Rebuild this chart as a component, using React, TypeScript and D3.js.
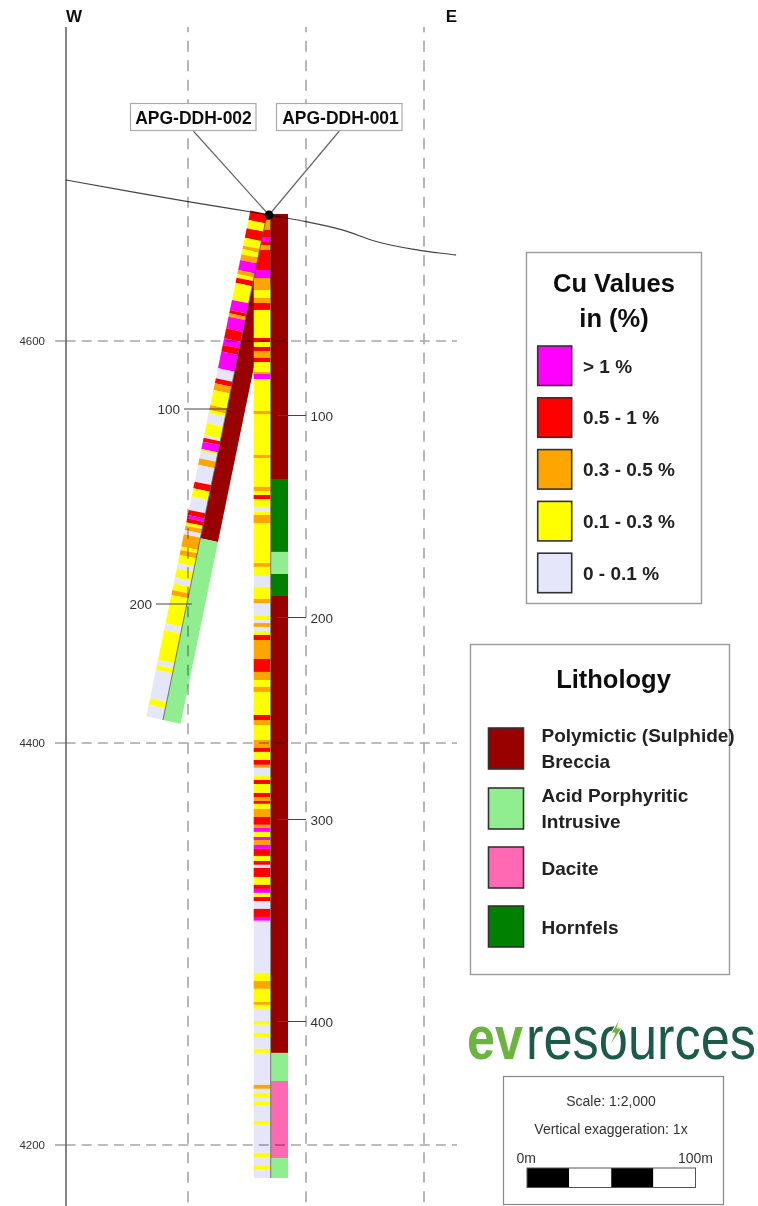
import React from "react";
import * as d3 from "d3";

const W = 758, H = 1206;
const SANS = "'Liberation Sans', Arial, sans-serif";

// Legends
const cuClasses = ["M", "R", "O", "Y", "L"];
const cuLabels = ["> 1 %", "0.5 - 1 %", "0.3 - 0.5 %", "0.1 - 0.3 %", "0 - 0.1 %"];
const cuColours = ["#ff00ff", "#ff0000", "#ffa500", "#ffff00", "#e6e6fa"];
const lithClasses = ["BX", "AP", "DA", "HF"];
const lithLabels = [["Polymictic (Sulphide)", "Breccia"], ["Acid Porphyritic", "Intrusive"], ["Dacite"], ["Hornfels"]];
const lithColours = ["#990000", "#90ee90", "#ff69b4", "#008000"];

// Grid and axes
const elevationTicks = [4600, 4400, 4200];
const eastingGrid = [0, 50, 100];
const terrainEast = [-51.7, 0, 26.3, 50, 65.7, 80.1, 97, 113.6];
const terrainElev = [4680.1, 4669.3, 4664.3, 4659.4, 4655.2, 4649.4, 4645.3, 4642.8];
const hole1Ticks = [100, 200, 300, 400];
const hole2Ticks = [100, 200];

// Hole 1 (vertical): interval end depth + class
const h1CuTo = [3, 7.9, 11.4, 13.9, 15.3, 17.8, 27.7, 31.7, 37.6, 41.6, 44.1, 47.5, 61.4, 63.4, 65.8, 67.8, 71.3, 73.3, 78.2, 79.2, 81.7, 97.5, 99, 119.3, 120.8, 135.1, 137.1, 139.1, 141.1, 145, 147.5, 149, 153, 172.8, 174.7, 179.2, 184.6, 190.6, 192.6, 199, 201, 202.5, 204.4, 206.4, 208.4, 210.9, 220.3, 226.7, 230.7, 234.1, 236.6, 248, 250.5, 253, 260.4, 264.3, 266.3, 270.3, 272.7, 274.2, 278.2, 280.2, 282.2, 286.6, 288.6, 290.6, 292, 294.5, 298.5, 302.4, 303.9, 305.9, 308.4, 309.9, 312.3, 314.3, 317.8, 320.3, 322.2, 323.7, 328.2, 332.1, 334.1, 336.1, 338.1, 340.1, 344, 348, 349.9, 375.7, 379.7, 383.6, 390.1, 391.5, 393.5, 399.5, 401.4, 405.4, 407.4, 413.3, 415.3, 431.1, 433.1, 435.1, 437.6, 439.6, 441.5, 449, 450.9, 464.8, 466.8, 471.2, 473.2, 477.2];
const h1CuClass = ["R", "O", "R", "M", "R", "O", "R", "M", "O", "Y", "O", "R", "Y", "R", "Y", "R", "O", "R", "Y", "O", "M", "Y", "O", "Y", "O", "Y", "O", "Y", "R", "Y", "L", "Y", "O", "Y", "O", "Y", "L", "Y", "O", "L", "Y", "L", "O", "L", "Y", "R", "O", "R", "O", "Y", "O", "Y", "R", "O", "Y", "O", "R", "Y", "R", "O", "L", "Y", "R", "Y", "R", "O", "R", "Y", "O", "R", "O", "M", "Y", "M", "O", "M", "R", "Y", "R", "L", "R", "Y", "R", "M", "Y", "R", "L", "R", "M", "L", "Y", "O", "Y", "O", "Y", "L", "Y", "L", "Y", "L", "Y", "L", "O", "L", "Y", "L", "Y", "L", "Y", "L", "Y", "L", "Y", "L"];
const h1LithTo = [131.2, 167.3, 178.2, 189.1, 415.3, 429.2, 467.3, 477.2];
const h1LithClass = ["BX", "HF", "AP", "HF", "BX", "AP", "DA", "AP"];

// Hole 2 (inclined)
const h2CuTo = [4.8, 9.1, 13.9, 18, 19.7, 22.4, 25.3, 30.5, 32.5, 34.4, 37, 45.8, 51, 52.7, 54.4, 60.4, 65.5, 68.9, 72.3, 80.9, 86, 88.6, 92, 99.7, 102.3, 104, 109.1, 115.1, 116.5, 118.5, 122.3, 123.3, 127, 130.4, 139, 142.4, 146.7, 153.5, 156.1, 157.8, 159.9, 161.6, 163.8, 166, 172.3, 174, 176.6, 180.9, 183.5, 188.2, 191.2, 194.6, 197.1, 211.7, 215.1, 230.5, 233.1, 235.6, 250.2, 253.6, 259.5];
const h2CuClass = ["R", "Y", "R", "Y", "O", "Y", "O", "M", "O", "Y", "R", "Y", "M", "R", "O", "M", "R", "M", "R", "M", "L", "R", "O", "Y", "O", "Y", "L", "Y", "L", "R", "M", "Y", "L", "O", "L", "R", "Y", "L", "R", "M", "R", "Y", "O", "L", "O", "Y", "O", "Y", "L", "Y", "L", "Y", "O", "Y", "L", "Y", "L", "Y", "L", "Y", "L"];
const h2LithTo = [166.3, 259.5];
const h2LithClass = ["BX", "AP"];

const holeLabels = ["APG-DDH-002", "APG-DDH-001"];
const scaleBarMetres = [0, 25, 50, 75, 100];

const y = d3.scaleLinear().domain([4200, 4600]).range([1145, 341]);
const x = d3.scaleLinear().domain([0, 100]).range([188, 424]);
const h1Y = d3.scaleLinear().domain([0, 400]).range([214, 1022]);
const h2Y = d3.scaleLinear().domain([0, 260]).range([214, 721]);
const barX = d3.scaleLinear().domain([0, 100]).range([527, 695.5]);
const cuColour = d3.scaleOrdinal<string, string>().domain(cuClasses).range(cuColours);
const lithColour = d3.scaleOrdinal<string, string>().domain(lithClasses).range(lithColours);

const SLOPE = 0.2056;
const h2AxisX = (yy: number) => 267 - SLOPE * (yy - 214);
const nx = 0.9795, ny = 0.2014;
const h2Pt = (d: number, off: number): [number, number] => {
  const yy = h2Y(d);
  return [h2AxisX(yy) + nx * off, yy + ny * off];
};
const poly = d3.line();
const h2Seg = (a: number, b: number, o0: number, o1: number) =>
  poly([h2Pt(a, o0), h2Pt(b, o0), h2Pt(b, o1), h2Pt(a, o1)]) + "Z";

const terrainLine = d3
  .line<number>()
  .x((_, i) => x(terrainEast[i]))
  .y((_, i) => y(terrainElev[i]))
  .curve(d3.curveCatmullRom);

const GRID = "#a6a6a6";
const STRIP = 17;
const LEGEND_TEXT = "#222";

function App() {
  return (
    <svg width={W} height={H} viewBox={`0 0 ${W} ${H}`} style={{ position: "absolute", left: 0, top: 0, background: "#fff" }} fontFamily={SANS}>
      <defs>
        <filter id="soft" x="0" y="0" width="100%" height="100%">
          <feGaussianBlur stdDeviation="0.65" />
        </filter>
      </defs>
      <g filter="url(#soft)">
        <rect width={W} height={H} fill="#fff" />

        {/* hole 2 lithology, under hole 1 */}
        {h2LithTo.map((to, i) => (
          <path key={i} d={h2Seg(i ? h2LithTo[i - 1] : 0, to, 0, STRIP + 1)} fill={lithColour(h2LithClass[i])} />
        ))}
        {/* hole 1 Cu */}
        {h1CuTo.map((to, i) => {
          const from = i ? h1CuTo[i - 1] : 0;
          return <rect key={i} x={253.7} width={16.8} y={h1Y(from)} height={h1Y(to) - h1Y(from)} fill={cuColour(h1CuClass[i])} />;
        })}
        {/* hole 2 Cu */}
        {h2CuTo.map((to, i) => (
          <path key={i} d={h2Seg(i ? h2CuTo[i - 1] : 0, to, -STRIP, 0)} fill={cuColour(h2CuClass[i])} />
        ))}
        <path d={poly([h2Pt(0, 0), h2Pt(259.5, 0)]) ?? ""} stroke="#555" strokeWidth={0.8} fill="none" />
        {/* hole 1 lithology */}
        {h1LithTo.map((to, i) => {
          const from = i ? h1LithTo[i - 1] : 0;
          return <rect key={i} x={271} width={17} y={h1Y(from)} height={h1Y(to) - h1Y(from)} fill={lithColour(h1LithClass[i])} />;
        })}
        <line x1={270.7} x2={270.7} y1={h1Y(0)} y2={h1Y(477.2)} stroke="#555" strokeWidth={0.8} />

        {/* grid, showing through the strips */}
        <g style={{ mixBlendMode: "multiply" }}>
          {eastingGrid.map((e) => (
            <line key={e} x1={x(e)} x2={x(e)} y1={27} y2={H} stroke={GRID} strokeWidth={1.6} strokeDasharray="11 8.5" strokeDashoffset={5.8} />
          ))}
          {elevationTicks.map((v) => (
            <g key={v}>
              <line x1={55} x2={66} y1={y(v)} y2={y(v)} stroke={GRID} strokeWidth={1.6} />
              <line x1={65.6} x2={457} y1={y(v)} y2={y(v)} stroke={GRID} strokeWidth={1.6} strokeDasharray="10 6.1" />
            </g>
          ))}
        </g>
        {elevationTicks.map((v) => (
          <text key={v} x={45} y={y(v) + 4} textAnchor="end" fontSize={11.5} fill="#333">{v}</text>
        ))}
        <line x1={66} x2={66} y1={27} y2={H} stroke="#666" strokeWidth={1.6} />
        <text x={74} y={21.5} textAnchor="middle" fontSize={17} fontWeight="bold" fill="#111">W</text>
        <text x={451.5} y={21.5} textAnchor="middle" fontSize={17} fontWeight="bold" fill="#111">E</text>
        <path d={terrainLine(terrainEast) ?? ""} fill="none" stroke="#444" strokeWidth={1.2} style={{ mixBlendMode: "multiply" }} />

        {/* depth ticks */}
        {hole1Ticks.map((d) => (
          <g key={d}>
            <line x1={277} x2={306} y1={h1Y(d) - 0.5} y2={h1Y(d) - 0.5} stroke="#444" strokeWidth={1} />
            <text x={310.5} y={h1Y(d) + 4.5} fontSize={13.5} fill="#333">{d}</text>
          </g>
        ))}
        {hole2Ticks.map((d, i) => {
          const yy = h2Y(d);
          const ax = h2AxisX(yy);
          const left = [184, 156][i];
          return (
            <g key={d}>
              <line x1={left} x2={ax + 5} y1={yy} y2={yy} stroke="#444" strokeWidth={1} />
              <text x={left - 4} y={yy + 5} textAnchor="end" fontSize={13.5} fill="#333">{d}</text>
            </g>
          );
        })}

        {/* collar labels */}
        <line x1={193.3} y1={131} x2={269} y2={215} stroke="#666" strokeWidth={1.2} />
        <line x1={339.3} y1={131} x2={269} y2={215} stroke="#666" strokeWidth={1.2} />
        <circle cx={269} cy={215} r={4.4} fill="#000" />
        {holeLabels.map((t, i) => (
          <g key={t}>
            <rect x={130.5 + i * 146} y={103.5} width={125.5} height={27} fill="#fff" stroke="#aaa" strokeWidth={1.2} />
            <text x={193.5 + i * 147} y={123.5} textAnchor="middle" fontSize={17.5} fontWeight="bold" fill="#111">{t}</text>
          </g>
        ))}

        {/* Cu legend */}
        <rect x={526.5} y={252.5} width={175} height={351} fill="#fff" stroke="#999" strokeWidth={1.4} />
        <text x={614} y={292} textAnchor="middle" fontSize={25.5} fontWeight="bold" fill="#111">Cu Values</text>
        <text x={614} y={327} textAnchor="middle" fontSize={25.5} fontWeight="bold" fill="#111">in (%)</text>
        {cuLabels.map((t, i) => (
          <g key={t}>
            <rect x={537.7} y={346 + i * 51.8} width={34} height={39.5} fill={cuColours[i]} stroke="#333" strokeWidth={1.6} />
            <text x={583} y={372.5 + i * 51.8} fontSize={19} fontWeight="bold" fill={LEGEND_TEXT}>{t}</text>
          </g>
        ))}

        {/* Lithology legend */}
        <rect x={470.5} y={644.5} width={259} height={330} fill="#fff" stroke="#999" strokeWidth={1.4} />
        <text x={613.5} y={687.5} textAnchor="middle" fontSize={25.5} fontWeight="bold" fill="#111">Lithology</text>
        {lithLabels.map((lines, i) => {
          const top = [728, 788, 847, 906][i];
          return (
            <g key={i}>
              <rect x={488.5} y={top} width={35} height={41} fill={lithColours[i]} stroke="#333" strokeWidth={1.6} />
              {lines.map((l, j) => (
                <text key={l} x={541.5} y={lines.length > 1 ? top + 14 + j * 25.5 : top + 28} fontSize={19} fontWeight="bold" fill={LEGEND_TEXT}>{l}</text>
              ))}
            </g>
          );
        })}

        {/* Logo */}
        <text transform="translate(467,1059) scale(0.81,1)" fontSize={62} fontWeight="bold" fill="#6cb33f">ev</text>
        <text transform="translate(526,1059) scale(0.845,1)" fontSize={62} fill="#1f5a4a">resources</text>
        <path d={d3.line()([[620, 1018], [611, 1033], [615, 1033], [609, 1047], [622, 1028], [617, 1028]]) + "Z"} fill="#6cb33f" stroke="#fff" strokeWidth={1} />

        {/* Scale box */}
        <rect x={503.5} y={1076.5} width={220} height={128} fill="#fff" stroke="#888" strokeWidth={1.2} />
        <text x={611} y={1106} textAnchor="middle" fontSize={14} fill="#333">Scale: 1:2,000</text>
        <text x={611} y={1134} textAnchor="middle" fontSize={14} fill="#333">Vertical exaggeration: 1x</text>
        <text x={516.5} y={1162.5} fontSize={14} fill="#333">0m</text>
        <text x={713} y={1162.5} textAnchor="end" fontSize={14} fill="#333">100m</text>
        {scaleBarMetres.slice(0, -1).map((m, i) => (
          <rect key={m} x={barX(m)} y={1168} width={barX(scaleBarMetres[i + 1]) - barX(m)} height={19.5} fill={i % 2 ? "#fff" : "#000"} />
        ))}
        <rect x={barX(0)} y={1168} width={barX(100) - barX(0)} height={19.5} fill="none" stroke="#555" strokeWidth={1} />
      </g>
    </svg>
  );
}

export default App;
